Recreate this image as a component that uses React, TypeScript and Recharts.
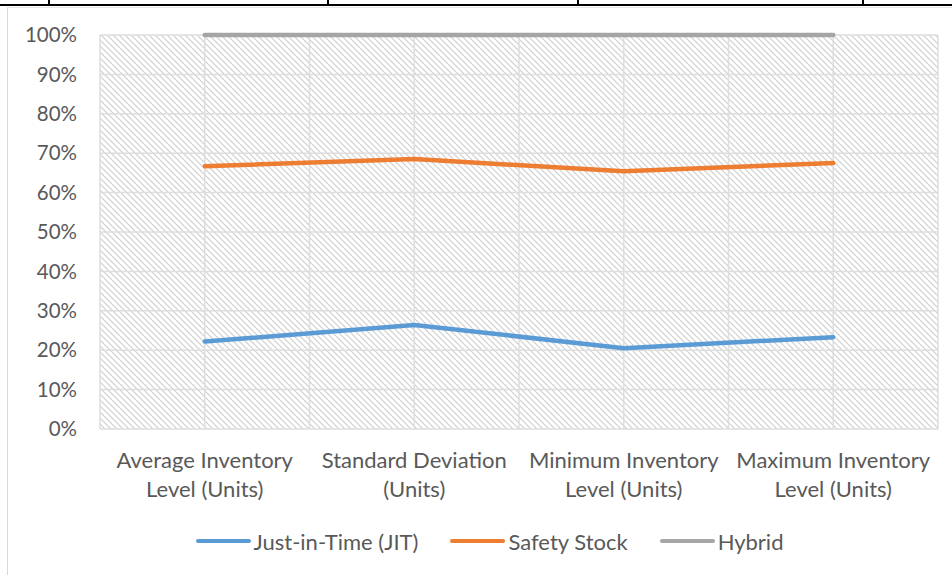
import React from 'react'
import { LineChart, Line, XAxis, YAxis, CartesianGrid, Legend } from 'recharts'

const categories = [
  'Average Inventory Level (Units)',
  'Standard Deviation (Units)',
  'Minimum Inventory Level (Units)',
  'Maximum Inventory Level (Units)'
]
const jit = [0.222, 0.264, 0.205, 0.233]
const safetyStock = [0.667, 0.685, 0.654, 0.675]
const hybrid = [1, 1, 1, 1]
const yTicks = [0, 0.1, 0.2, 0.3, 0.4, 0.5, 0.6, 0.7, 0.8, 0.9, 1]

const series = [
  { key: 'jit', name: 'Just-in-Time (JIT)', color: '#5B9BD5' },
  { key: 'safety', name: 'Safety Stock', color: '#ED7D31' },
  { key: 'hybrid', name: 'Hybrid', color: '#A5A5A5' }
]

const data = categories.map((c, i) => ({
  name: c,
  jit: jit[i],
  safety: safetyStock[i],
  hybrid: hybrid[i]
}))

const FONT = 'Lato, "Open Sans", sans-serif'
const TEXT = '#595959'

// wrap labels the way excel does: break before "Level" or "(Units)"
function splitLabel(s: string) {
  let idx = s.indexOf(' Level')
  if (idx < 0) idx = s.indexOf(' (Units)')
  if (idx < 0) return [s]
  return [s.slice(0, idx), s.slice(idx + 1)]
}

const CategoryTick = (props: any) => {
  const { x, y, payload } = props
  const lines = splitLabel(payload.value)
  return (
    <text x={x} y={y} textAnchor="middle" fill={TEXT} fontSize={22} fontFamily={FONT}>
      {lines.map((l, i) => (
        <tspan key={i} x={x} dy={i === 0 ? 31 : 29}>
          {l}
        </tspan>
      ))}
    </text>
  )
}

const LegendBox = () => (
  <div
    style={{
      display: 'flex',
      justifyContent: 'center',
      alignItems: 'center',
      paddingLeft: 41,
      fontFamily: FONT,
      fontSize: 22,
      color: TEXT,
      height: 24
    }}
  >
    {series.map((s, i) => (
      <div key={s.key} style={{ display: 'flex', alignItems: 'center', marginLeft: i === 0 ? 0 : 32 }}>
        <span
          style={{
            display: 'inline-block',
            width: 55,
            height: 4,
            borderRadius: 2,
            background: s.color,
            marginRight: 3
          }}
        />
        <span>{s.name}</span>
      </div>
    ))}
  </div>
)

export default function App() {
  return (
    <div style={{ position: 'absolute', left: 0, top: 0, width: 952, height: 575, background: '#fff', overflow: 'hidden' }}>
      {/* table border above the chart */}
      <div style={{ position: 'absolute', left: 0, top: 4, width: 952, height: 1.5, background: '#000' }} />
      {[48, 327, 577, 862].map((x) => (
        <div key={x} style={{ position: 'absolute', left: x, top: 0, width: 1.5, height: 5, background: '#000' }} />
      ))}
      {/* chart area border */}
      <div
        style={{
          position: 'absolute',
          left: 7,
          top: 7,
          width: 960,
          height: 600,
          borderLeft: '1.5px solid #d9d9d9',
          borderTop: '1px solid #e6e6e6'
        }}
      />
      <div style={{ position: 'absolute', left: 0, top: 0 }}>
        <LineChart width={952} height={575} data={data} margin={{ top: 35, right: 14, left: 0, bottom: 22 }}>
          <defs>
            <pattern id="hatch" width="6" height="6" patternUnits="userSpaceOnUse">
              <rect width="6" height="6" fill="#ffffff" />
              <path d="M-1,-1 L7,7 M5,-1 L7,1 M-1,5 L1,7" stroke="#cfcfcf" strokeWidth="1.2" />
            </pattern>
          </defs>
          <CartesianGrid
            fill="url(#hatch)"
            fillOpacity={1}
            stroke="#dedede"
            strokeWidth={1.5}
            verticalCoordinatesGenerator={({ offset }: any) =>
              Array.from({ length: categories.length * 2 + 1 }, (_, i) => offset.left + (offset.width * i) / (categories.length * 2))
            }
          />
          <XAxis
            dataKey="name"
            scale="band"
            interval={0}
            axisLine={false}
            tickLine={false}
            height={100}
            tick={<CategoryTick />}
          />
          <YAxis
            domain={[0, 1]}
            ticks={yTicks}
            interval={0}
            width={100}
            axisLine={false}
            tickLine={false}
            tickSize={0}
            tickMargin={23}
            tickFormatter={(v: number) => `${Math.round(v * 100)}%`}
            tick={{ fill: TEXT, fontSize: 20.5, fontFamily: FONT }}
          />
          {series.map((s) => (
            <Line
              key={s.key}
              dataKey={s.key}
              name={s.name}
              stroke={s.color}
              strokeWidth={4.5}
              strokeLinecap="round"
              strokeLinejoin="round"
              dot={false}
              activeDot={false}
              type="linear"
              isAnimationActive={false}
            />
          ))}
          <Legend verticalAlign="bottom" height={24} content={<LegendBox />} />
        </LineChart>
      </div>
    </div>
  )
}
